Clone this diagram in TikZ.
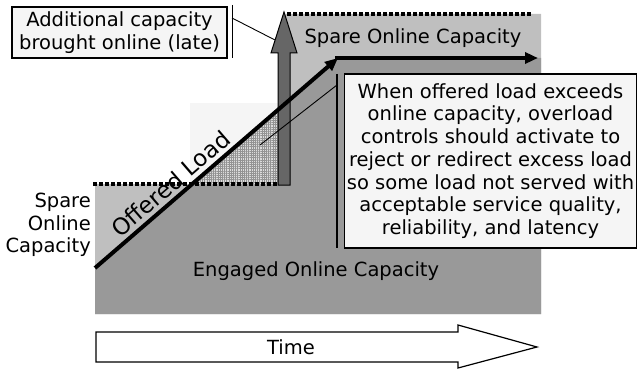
\documentclass[tikz,border=0pt]{standalone}
\usepackage{fontspec}
\setmainfont{DejaVu Sans}
\usetikzlibrary{arrows.meta,patterns.meta}
\definecolor{sparegray}{gray}{0.75}
\definecolor{engagedgray}{gray}{0.6}
\definecolor{arrowgray}{gray}{0.4}
\definecolor{boxgray}{gray}{0.96}
\definecolor{hatchbg}{gray}{0.86}
\definecolor{faintgray}{gray}{0.96}
\begin{document}
\begin{tikzpicture}[x=1pt,y=-1pt,
  txt/.style={font=\fontsize{19.5}{22.7}\selectfont, inner sep=0pt},
  callout/.style={draw=black, line width=1.2pt, fill=boxgray, align=center, inner sep=2pt, font=\fontsize{19.5}{22.7}\selectfont},
  dotline/.style={line width=4pt, dash pattern=on 3.5pt off 2.5pt},
  loadline/.style={line width=4pt},
  leader/.style={line width=0.9pt},
  tipstyle/.style={-{Triangle[length=13pt,width=11pt]}}]
\useasboundingbox (0,0) rectangle (637,369);
% capacity (spare) region
\fill[sparegray] (95,184) -- (285,184) -- (285,14) -- (541,14) -- (541,314) -- (95,314) -- cycle;
\fill[faintgray] (190,103) rectangle (279,184);
% load line points
\coordinate (L0) at (95,268);
\coordinate (L1) at (338,58);
\coordinate (L2) at (538,58);
% engaged region
\fill[engagedgray] (L0) -- (L1) -- (541,58) -- (541,314) -- (95,314) -- cycle;
% overload (hatched) triangle
\coordinate (H0) at (192.2,184);
\coordinate (H1) at (279,184);
\coordinate (H2) at (279,109);
\fill[hatchbg] (H0) -- (H1) -- (H2) -- cycle;
\fill[pattern={Hatch[angle=0,distance=2.2pt,line width=0.6pt]}, pattern color=gray!85] (H0) -- (H1) -- (H2) -- cycle;
% capacity limits (dotted)
\draw[dotline] (93,184) -- (279,184);
\draw[dotline] (287,14) -- (531,14);
% added capacity arrow
\draw[fill=arrowgray, line width=1pt] (278,185) -- (290,185) -- (290,53) -- (297,53) -- (284,12) -- (271,53) -- (278,53) -- cycle;
\coordinate (addTip) at (275,40);
% offered load
\draw[loadline, tipstyle] (L0) -- node[inner sep=0pt, font=\fontsize{23}{26}\selectfont, sloped, above=3.5pt, pos=0.35] (offered) {Offered Load} (L1);
\draw[line width=3.5pt, tipstyle] (335,58) -- (L2);
% labels
\node[txt] (spareTop) at (413,38) {Spare Online Capacity};
\node[txt] (engaged) at (316,271) {Engaged Online Capacity};
\node[txt, align=right, anchor=east] (spareLeft) at (91,225) {Spare\\Online\\Capacity};
% time arrow
\draw[fill=white, line width=1.2pt] (96,332) -- (458,332) -- (458,325) -- (537,347) -- (458,368) -- (458,362) -- (96,362) -- cycle;
\node[txt] (time) at (291,347) {Time};
% callout: additional capacity
\node[callout, minimum width=215pt, minimum height=51pt] (addcap) at (119.5,32.5) {Additional capacity\\brought online (late)};
\coordinate (barAtop) at (232,5);
\coordinate (barAbot) at (232,58);
\coordinate (barAlead) at (232,18);
\draw[line width=1pt] (barAtop) -- (barAbot);
\draw[leader] (barAlead) -- (addTip);
% callout: overload
\node[callout, minimum width=291pt, minimum height=174pt] (overload) at (490.5,161) {When offered load exceeds\\online capacity, overload\\controls should activate to\\reject or redirect excess load\\so some load not served with\\acceptable service quality,\\reliability, and latency};
\coordinate (barBtop) at (337,74);
\coordinate (barBbot) at (337,248);
\coordinate (barBlead) at (337,85);
\coordinate (hatchPt) at (260,145);
\draw[line width=2pt] (barBtop) -- (barBbot);
\draw[leader] (barBlead) -- (hatchPt);
\end{tikzpicture}
\end{document}
